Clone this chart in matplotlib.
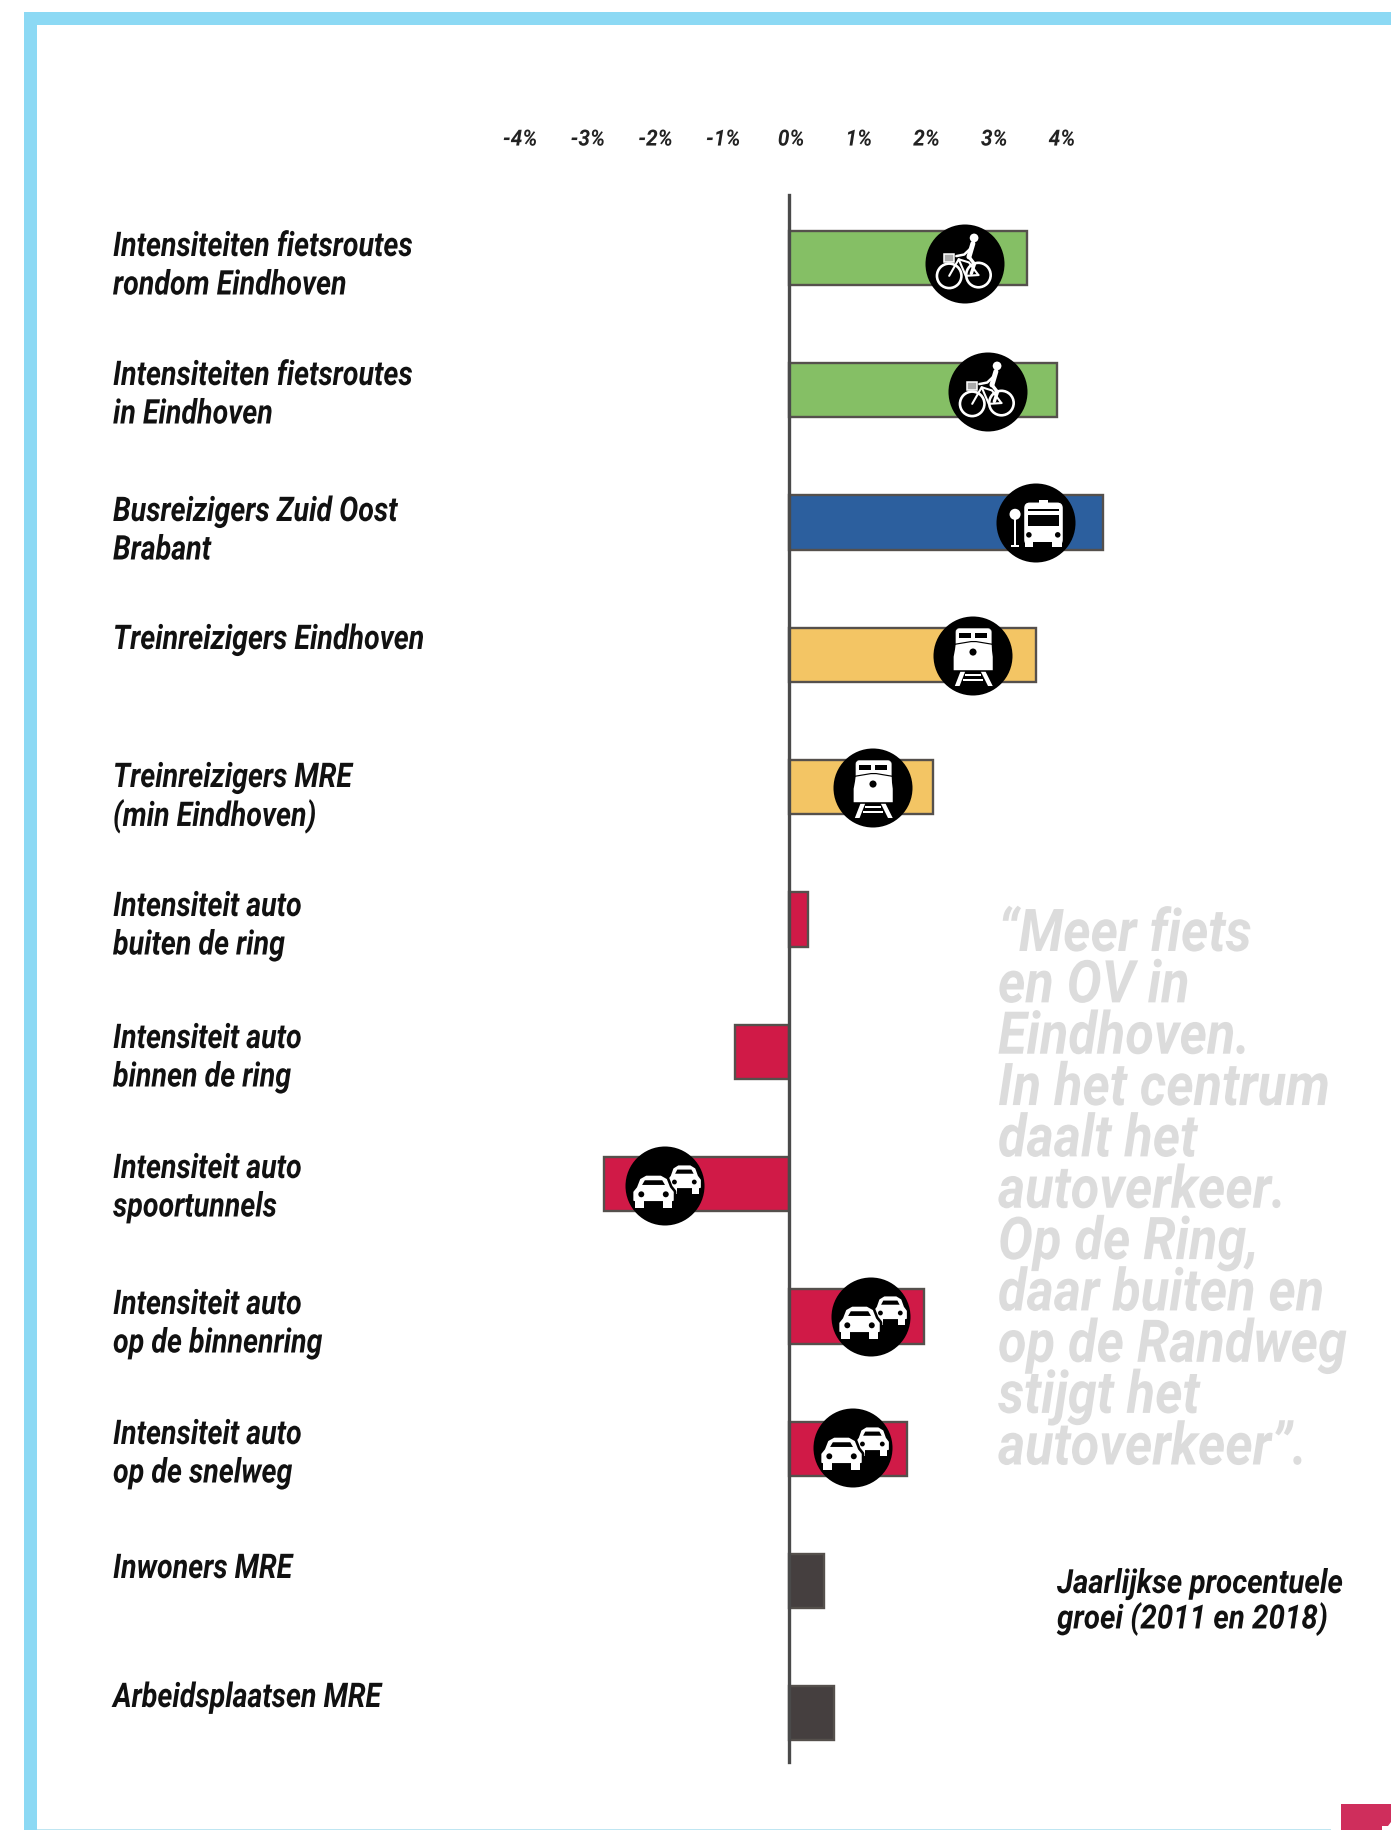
import matplotlib
matplotlib.use('Agg')
import matplotlib.pyplot as plt
from matplotlib.patches import Circle, Rectangle, FancyBboxPatch, Polygon
from matplotlib.patheffects import AbstractPathEffect
from matplotlib.transforms import Affine2D, ScaledTranslation

W, H = 1391, 1830

labels = ['Intensiteiten fietsroutes\nrondom Eindhoven',
          'Intensiteiten fietsroutes\nin Eindhoven',
          'Busreizigers Zuid Oost\nBrabant',
          'Treinreizigers Eindhoven',
          'Treinreizigers MRE\n(min Eindhoven)',
          'Intensiteit auto\nbuiten de ring',
          'Intensiteit auto\nbinnen de ring',
          'Intensiteit auto\nspoortunnels',
          'Intensiteit auto\nop de binnenring',
          'Intensiteit auto\nop de snelweg',
          'Inwoners MRE',
          'Arbeidsplaatsen MRE']
growth = [3.52, 3.96, 4.64, 3.65, 2.13, 0.28, -0.80, -2.74, 2.0, 1.75, 0.52, 0.66]
modes = ['fiets', 'fiets', 'bus', 'trein', 'trein', 'auto', 'auto', 'auto', 'auto', 'auto', 'overig', 'overig']
tick_values = [-4, -3, -2, -1, 0, 1, 2, 3, 4]
tick_labels = ['-4%', '-3%', '-2%', '-1%', '0%', '1%', '2%', '3%', '4%']
quote_lines = ['“Meer fiets', 'en OV in', 'Eindhoven.', 'In het centrum', 'daalt het',
               'autoverkeer.', 'Op de Ring,', 'daar buiten en', 'op de Randweg',
               'stijgt het', 'autoverkeer”.']
caption_lines = ['Jaarlijkse procentuele', 'groei (2011 en 2018)']

colors = {'fiets': '#85BF65', 'bus': '#2C5F9E', 'trein': '#F3C564', 'auto': '#D01A47', 'overig': '#453F3F'}
edge = '#55504C'

# label first-line heights and icon centres, in pixels
label_y = [247, 376, 512, 640, 778, 907, 1039, 1169, 1305, 1435, 1569, 1698]
icons = [('fiets', 965, 264), ('fiets', 988, 392), ('bus', 1036, 523), ('trein', 973, 656),
         ('trein', 873, 788), ('auto', 665, 1186), ('auto', 871, 1317), ('auto', 853, 1448)]


class Condensed(AbstractPathEffect):
    # squeeze the glyphs horizontally around the text origin, no condensed font is installed
    def __init__(self, sx):
        super().__init__()
        self.sx = sx

    def draw_path(self, renderer, gc, tpath, affine, rgbFace=None):
        x0 = affine.get_matrix()[0, 2]
        squeeze = Affine2D().translate(-x0, 0).scale(self.sx, 1).translate(x0, 0)
        renderer.draw_path(gc, tpath, affine + squeeze, rgbFace)


plt.rcParams['font.family'] = ['Roboto', 'DejaVu Sans']
plt.rcParams['font.weight'] = 'bold'
plt.rcParams['font.style'] = 'italic'

fig = plt.figure(figsize=(W / 100, H / 100), dpi=100, facecolor='white')

# pixel overlay for the frame, the texts and the icons
ov = fig.add_axes([0, 0, 1, 1], zorder=3)
ov.set_xlim(0, W)
ov.set_ylim(H, 0)
ov.axis('off')
ov.patch.set_alpha(0)

# chart axes, 1% = 67.7 px, rows 132.3 px apart
top, bottom, left, right = 195, 1762, 60, 1200
ax = fig.add_axes([left / W, 1 - bottom / H, (right - left) / W, (bottom - top) / H], zorder=2)
ax.patch.set_alpha(0)
ax.set_xlim((left - 789) / 67.7, (right - 789) / 67.7)
ax.set_ylim((bottom - 258) / 132.3, (top - 258) / 132.3)

rows = list(range(len(growth)))
ax.barh(rows, growth, height=0.41, color=[colors[m] for m in modes], edgecolor=edge, linewidth=1.7)

for s in ['top', 'right', 'bottom']:
    ax.spines[s].set_visible(False)
ax.spines['left'].set_position(('data', 0))
ax.spines['left'].set_color('#4A4A4A')
ax.spines['left'].set_linewidth(2.4)
ax.set_yticks([])
ax.xaxis.set_ticks_position('top')
ax.set_xticks(tick_values)
ax.set_xticklabels(tick_labels, fontsize=16, color='#222222')
ax.tick_params(axis='x', length=0, pad=32)
for t in ax.get_xticklabels():
    t.set_transform(t.get_transform() + ScaledTranslation(3 / 100, 0, fig.dpi_scale_trans))
    t.set_path_effects([Condensed(0.94)])

# frame
blue = '#8CD9F4'
ov.add_patch(Rectangle((24, 12), W - 24, 13, color=blue, lw=0))
ov.add_patch(Rectangle((24, 12), 13, H - 12, color=blue, lw=0))
ov.add_patch(Rectangle((37, 1829), 1294, 1, color='#BFE6F2', lw=0))
ov.add_patch(Rectangle((1341, 1804), 50, 26, color='#CF2E5C', lw=0))
ov.add_patch(Polygon([(1391, 1822), (1388, 1826), (1382, 1826), (1382, 1830), (1391, 1830)], color='white', lw=0))

# texts
for txt, y in zip(labels, label_y):
    for i, line in enumerate(txt.split('\n')):
        ov.text(113, y + i * 38.5, line, fontsize=24.5, color='#111111', va='center', ha='left',
                path_effects=[Condensed(0.84)])
for i, line in enumerate(quote_lines):
    ov.text(998, 935 + i * 51.35, line, fontsize=42.5, color='#DCDCDC', va='center', ha='left',
            path_effects=[Condensed(0.885)])
for i, line in enumerate(caption_lines):
    ov.text(1057, 1584 + i * 35, line, fontsize=24, color='#111111', va='center', ha='left',
            path_effects=[Condensed(0.885)])


def disc(cx, cy, r):
    ov.add_patch(Circle((cx, cy), r, color='black', lw=0, zorder=5))


def white_line(pts, cx, cy, r, lw=2.0):
    ov.plot([cx + p[0] * r for p in pts], [cy + p[1] * r for p in pts], color='white', lw=lw,
            solid_capstyle='round', zorder=6)


def rect(cx, cy, r, x0, y0, x1, y1, c='white', z=6):
    ov.add_patch(Rectangle((cx + x0 * r, cy + y0 * r), (x1 - x0) * r, (y1 - y0) * r, color=c, lw=0, zorder=z))


def dot(cx, cy, r, x, y, s, c='white', z=6):
    ov.add_patch(Circle((cx + x * r, cy + y * r), s * r, color=c, lw=0, zorder=z))


def poly(cx, cy, r, pts, c='white', z=6):
    ov.add_patch(Polygon([(cx + p[0] * r, cy + p[1] * r) for p in pts], color=c, lw=0, zorder=z))


def bike(cx, cy, r):
    for wx, wy in [(-0.40, 0.30), (0.34, 0.28)]:
        ov.add_patch(Circle((cx + wx * r, cy + wy * r), 0.31 * r, fill=False, ec='white', lw=1.9, zorder=6))
    white_line([(-0.40, 0.30), (-0.16, -0.12), (0.02, 0.30), (0.34, 0.28)], cx, cy, r, 1.5)
    white_line([(-0.16, -0.12), (0.10, -0.04), (0.34, 0.28)], cx, cy, r, 1.5)
    white_line([(0.20, -0.52), (0.10, -0.18)], cx, cy, r, 3.6)
    white_line([(0.10, -0.18), (0.24, 0.0), (0.16, 0.24)], cx, cy, r, 2.4)
    white_line([(0.17, -0.42), (-0.02, -0.24), (-0.22, -0.20)], cx, cy, r, 1.8)
    dot(cx, cy, r, 0.23, -0.66, 0.11)
    ov.add_patch(Rectangle((cx - 0.54 * r, cy - 0.25 * r), 0.25 * r, 0.19 * r, fc='#AAAAAA', ec='white',
                           lw=1.1, zorder=6))


def bus(cx, cy, r):
    ov.add_patch(FancyBboxPatch((cx - 0.28 * r, cy - 0.50 * r), 0.94 * r, 1.05 * r,
                                boxstyle='round,pad=0,rounding_size=%f' % (0.12 * r),
                                fc='white', ec='white', lw=1, zorder=6))
    rect(cx, cy, r, 0.08, -0.59, 0.30, -0.48)
    rect(cx, cy, r, -0.20, -0.36, 0.57, -0.31, 'black', 7)
    rect(cx, cy, r, -0.20, -0.19, 0.57, 0.07, 'black', 7)
    dot(cx, cy, r, -0.18, 0.30, 0.07, 'black', 7)
    dot(cx, cy, r, 0.55, 0.30, 0.07, 'black', 7)
    rect(cx, cy, r, -0.07, 0.47, 0.40, 0.62, 'black', 7)
    rect(cx, cy, r, -0.27, 0.50, -0.02, 0.62)
    rect(cx, cy, r, 0.40, 0.50, 0.65, 0.62)
    dot(cx, cy, r, -0.53, -0.22, 0.14)
    rect(cx, cy, r, -0.56, -0.15, -0.50, 0.60)
    rect(cx, cy, r, -0.64, 0.56, -0.42, 0.62)


def train(cx, cy, r):
    ov.add_patch(FancyBboxPatch((cx - 0.43 * r, cy - 0.69 * r), 0.89 * r, 0.60 * r,
                                boxstyle='round,pad=0,rounding_size=%f' % (0.08 * r),
                                fc='white', ec='white', lw=0.5, zorder=6))
    poly(cx, cy, r, [(-0.43, -0.30), (0.46, -0.30), (0.50, 0.02), (0.50, 0.36), (-0.49, 0.36), (-0.49, 0.02)])
    poly(cx, cy, r, [(-0.47, -0.28), (-0.05, -0.35), (0.08, -0.35), (0.50, -0.28), (0.50, -0.31),
                     (0.08, -0.38), (-0.05, -0.38), (-0.47, -0.31)], 'black', 7)
    rect(cx, cy, r, -0.35, -0.57, -0.05, -0.46, 'black', 7)
    rect(cx, cy, r, 0.06, -0.57, 0.36, -0.46, 'black', 7)
    dot(cx, cy, r, 0.0, -0.10, 0.09, 'black', 7)
    poly(cx, cy, r, [(-0.32, 0.40), (-0.46, 0.76), (-0.34, 0.76), (-0.20, 0.40)])
    poly(cx, cy, r, [(0.32, 0.40), (0.50, 0.76), (0.38, 0.76), (0.20, 0.40)])
    rect(cx, cy, r, -0.20, 0.45, 0.20, 0.51)
    rect(cx, cy, r, -0.25, 0.57, 0.25, 0.64)


def one_car(cx, cy, r, ox, oy, sx, sy, front):
    # car seen from the front, unit box around (ox, oy)
    def p(x, y):
        return (ox + x * sx, oy + y * sy)
    shape = [p(-0.49, 0.26), p(-0.49, 0.0), p(-0.40, -0.14), p(-0.32, -0.40), p(-0.18, -0.50), p(0.18, -0.50),
             p(0.32, -0.40), p(0.40, -0.14), p(0.49, 0.0), p(0.49, 0.26)]
    z = 8 if front else 6
    pts = [(cx + q[0] * r, cy + q[1] * r) for q in shape]
    if front:
        # black halo keeps it apart from the car behind
        ov.add_patch(Polygon(pts, fc='black', ec='black', lw=5, joinstyle='round', zorder=7))
    ov.add_patch(Polygon(pts, fc='white', ec='white', lw=1.2, joinstyle='round', zorder=z))
    poly(cx, cy, r, [p(-0.29, -0.23), p(-0.22, -0.38), p(0.22, -0.38), p(0.29, -0.23)], 'black', z)
    dot(cx, cy, r, *p(-0.31, 0.07), 0.06 * sx / 0.8, 'black', z)
    dot(cx, cy, r, *p(0.31, 0.07), 0.06 * sx / 0.8, 'black', z)
    rect(cx, cy, r, *p(-0.46, 0.30), *p(-0.24, 0.50), 'white', z)
    rect(cx, cy, r, *p(0.24, 0.30), *p(0.46, 0.50), 'white', z)


def car(cx, cy, r):
    one_car(cx, cy, r, 0.49, -0.15, 0.81, 0.70, False)
    one_car(cx, cy, r, -0.29, 0.155, 1.0, 0.79, True)


draw_icon = {'fiets': bike, 'bus': bus, 'trein': train, 'auto': car}
for kind, cx, cy in icons:
    disc(cx, cy, 39.5)
    draw_icon[kind](cx, cy, 39.5)

fig.savefig('out.png', dpi=100, facecolor='white')
